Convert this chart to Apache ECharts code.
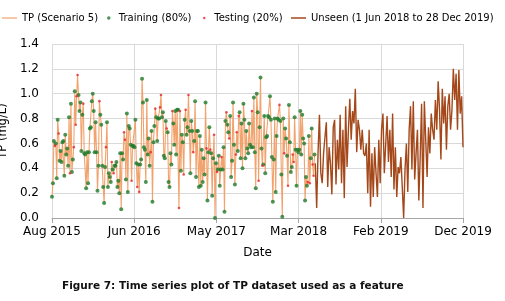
<!DOCTYPE html>
<html>
<head>
<meta charset="utf-8">
<script src="https://cdn.jsdelivr.net/npm/echarts@6/dist/echarts.min.js"></script>
<style>
html,body{margin:0;padding:0;background:#fff;}
#chart{width:505px;height:301px;}
</style>
</head>
<body>
<div id="chart"></div>
<script>
// ---- Data ----
const monthNames = ['Jan','Feb','Mar','Apr','May','Jun','Jul','Aug','Sep','Oct','Nov','Dec'];
const axisStartDate = '2015-08-11';      // first tick "Aug 2015"
const axisEndDate = '2019-12-28';        // last tick "Dec 2019"
const xTickStepDays = 320;
const yTicks = [0.0, 0.2, 0.4, 0.6, 0.8, 1.0, 1.2, 1.4];

const trainPeriod = ['2015-08-11', '2018-05-29'];
const unseenPeriod = ['2018-06-01', '2019-12-28'];

// TP values in the training/testing period (chronological)
const tpValues = [
0.17,0.28,0.62,0.58,0.60,0.32,0.79,0.68,0.46,0.54,
0.45,0.61,0.62,0.34,0.67,0.51,0.56,0.42,0.81,0.36,
0.92,0.37,0.47,0.57,1.02,0.75,0.98,1.15,0.99,0.86,
0.93,0.54,0.83,0.92,0.52,0.51,0.24,0.53,0.28,0.53,
0.72,0.73,0.94,1.00,0.86,0.53,0.77,0.53,0.22,0.42,
0.94,0.83,0.75,0.42,0.25,0.12,0.41,0.57,0.77,0.25,
0.36,0.33,0.29,0.45,0.39,0.36,0.42,0.42,0.45,0.25,
0.30,0.20,0.52,0.07,0.52,0.47,0.69,0.63,0.31,0.84,
0.21,0.74,0.72,0.59,0.30,0.58,0.58,0.57,0.79,0.44,
0.25,0.43,0.21,0.43,0.47,1.12,0.93,0.57,0.55,0.29,
0.95,0.51,0.64,0.42,0.53,0.70,0.13,0.61,0.74,0.88,
0.81,0.62,0.80,0.80,0.89,0.99,0.81,0.85,0.50,0.48,
0.78,0.72,0.69,0.29,0.25,0.52,0.43,0.86,0.76,0.59,
0.86,0.51,0.87,0.87,0.08,0.86,0.38,0.67,0.61,0.35,
0.79,0.87,0.67,0.73,0.99,0.70,0.36,0.78,0.70,0.53,
0.62,0.94,0.33,0.70,0.70,0.25,0.66,0.26,0.55,0.29,
0.48,0.35,0.93,0.56,0.14,0.53,0.73,0.55,0.52,0.18,
0.48,0.67,0.00,0.44,0.37,0.39,0.50,0.26,0.39,0.49,
0.39,0.57,0.05,0.78,0.85,0.75,0.69,0.64,0.82,0.33,
0.46,0.93,0.59,0.27,0.51,0.69,0.54,0.82,0.85,0.48,
0.76,0.40,0.92,0.79,0.48,0.70,0.56,0.52,0.76,0.59,
0.57,0.86,0.57,0.97,0.53,0.24,1.00,0.85,0.30,0.73,
1.13,0.56,0.42,0.43,0.82,0.36,0.65,0.66,0.82,0.81,
0.98,0.79,0.49,0.13,0.47,0.80,0.21,0.66,0.80,0.79,
0.91,0.78,0.35,0.01,0.80,0.52,0.72,0.64,0.50,0.26,
0.91,0.61,0.37,0.41,0.51,0.45,0.81,0.55,0.26,0.55,
0.53,0.55,0.86,0.51,0.83,0.64,0.60,0.14,0.33,0.26,
0.29,0.66,0.28,0.48,0.72,0.43,0.34,0.51
];
// T = training (80%), E = testing (20%), one letter per tpValues entry
const splitFlags =
"TTTETTTETT" + "TTTTTTTTTE" + "TTTETEEETT" + "TTTETTTTTT" + "TTTTTTTTTT" +
"ETTTTTTETT" + "TTTETETTTT" + "TTTTTTEETT" + "TTTTETTTTT" + "ETETTTTTTT" +
"TTTTETTTTE" + "TTTTEETTTT" + "TETTTTTETT" + "TTTTEETTTE" + "TETTETTTTE" +
"TTTTTTTTTT" + "TTTETTTETT" + "TETTETTTTE" + "TTTTETTETT" + "TTTTEETETT" +
"TTTTTTTTTT" + "TETTTTTTET" + "TTETTTTTTT" + "TTTTTTTTTT" + "ETTTTETTTE" +
"TTTTEETTTT" + "TTTTTTTTTT" + "ETETTEET";

// Unseen period values (1 Jun 2018 to 28 Dec 2019)
const unseenValues = [
0.44,0.08,0.53,0.83,0.36,0.28,0.52,0.65,0.77,0.25,
0.57,0.44,0.19,0.73,0.79,0.27,0.63,0.39,0.83,0.28,
0.71,0.16,0.90,0.41,0.71,0.96,0.63,0.86,0.76,1.04,
0.53,0.79,0.71,0.55,0.71,0.52,0.50,0.60,0.20,0.71,
0.09,0.52,0.17,0.57,0.36,0.17,0.63,0.28,0.71,0.84,
0.36,0.59,0.82,0.45,0.71,0.33,0.84,0.23,0.57,0.17,
0.41,0.36,0.49,0.25,0.00,0.39,0.60,0.21,0.71,0.90,
0.39,0.94,0.31,0.52,0.71,0.14,0.49,0.92,0.08,0.94,
0.63,0.33,0.73,0.52,0.84,0.71,0.63,0.95,0.71,1.10,
0.87,0.47,1.04,0.76,0.98,0.55,0.90,1.00,0.71,0.87,
1.20,0.95,1.16,0.71,1.19,0.84,0.98,0.57
];

// ---- Build series data ----
const DAY = 86400000;
function utc(iso){ const p = iso.split('-').map(Number); return Date.UTC(p[0], p[1]-1, p[2]); }
const axisStart = utc(axisStartDate);
function dayOffset(iso){ return (utc(iso) - axisStart) / DAY; }
function spread(values, period){
  const a = dayOffset(period[0]), b = dayOffset(period[1]);
  const n = values.length;
  return values.map((v, i) => [a + i * (b - a) / (n - 1), v]);
}
const tpData = spread(tpValues, trainPeriod);
const trainingData = tpData.filter((d, i) => splitFlags[i] === 'T');
const testingData = tpData.filter((d, i) => splitFlags[i] === 'E');
const unseenData = spread(unseenValues, unseenPeriod);
const xMax = dayOffset(axisEndDate);

const FONT = 'DejaVu Sans';
const legendText = {fontFamily: FONT, fontSize: 10, color: '#000'};
const ORANGE = '#f2a26c';
const BROWN = '#a4481a';

const chart = echarts.init(document.getElementById('chart'), null, {renderer: 'canvas'});
chart.setOption({
  animation: false,
  backgroundColor: '#fff',
  title: {
    text: 'Figure 7: Time series plot of TP dataset used as a feature',
    left: 62, top: 281, padding: 0,
    textStyle: {fontFamily: FONT, fontSize: 10.5, fontWeight: 'bold', color: '#111'}
  },
  legend: [
    {data: [{name: 'TP (Scenario 5)', icon: 'rect', itemStyle: {color: ORANGE}}], left: 2, top: 13, padding: 0, itemWidth: 15, itemHeight: 1.2, textStyle: legendText},
    {data: [{name: 'Training (80%)', icon: 'circle'}], left: 107, top: 13, padding: 0, itemWidth: 10, itemHeight: 3.5, textStyle: legendText},
    {data: [{name: 'Testing (20%)', icon: 'circle'}], left: 203, top: 13, padding: 0, itemWidth: 10, itemHeight: 2.5, textStyle: legendText},
    {data: [{name: 'Unseen (1 Jun 2018 to 28 Dec 2019)', icon: 'rect', itemStyle: {color: BROWN}}], left: 291, top: 13, padding: 0, itemWidth: 15, itemHeight: 1.5, textStyle: legendText}
  ],
  grid: {left: 52, right: 42, top: 44, bottom: 83, outerBoundsMode: 'none', containLabel: false},
  xAxis: {
    type: 'value',
    min: 0, max: xMax, interval: xTickStepDays,
    name: 'Date', nameLocation: 'middle', nameGap: 29,
    nameTextStyle: {fontFamily: FONT, fontSize: 12, color: '#000'},
    axisLine: {show: true, lineStyle: {color: '#a6a6a6', width: 1}},
    axisTick: {show: true, length: 5, lineStyle: {color: '#a6a6a6'}},
    axisLabel: {
      fontFamily: FONT, fontSize: 12, color: '#000', margin: 8,
      formatter: function(v){
        const d = new Date(axisStart + v * DAY);
        return monthNames[d.getUTCMonth()] + ' ' + d.getUTCFullYear();
      }
    },
    splitLine: {show: true, lineStyle: {color: '#d9d9d9', width: 1}}
  },
  yAxis: {
    type: 'value',
    min: yTicks[0], max: yTicks[yTicks.length - 1], interval: yTicks[1] - yTicks[0],
    name: 'TP (mg/L)', nameLocation: 'middle', nameGap: 34,
    nameTextStyle: {fontFamily: FONT, fontSize: 11.5, color: '#000'},
    axisLine: {show: false},
    axisTick: {show: false},
    axisLabel: {fontFamily: FONT, fontSize: 12, color: '#000', margin: 13,
      formatter: v => v.toFixed(1)},
    splitLine: {show: true, lineStyle: {color: '#d9d9d9', width: 1}}
  },
  series: [
    {
      name: 'TP (Scenario 5)', type: 'line', data: tpData,
      symbol: 'none', lineStyle: {color: ORANGE, width: 1.1}, itemStyle: {color: ORANGE},
      z: 1
    },
    {
      name: 'Training (80%)', type: 'scatter', data: trainingData,
      symbol: 'circle', symbolSize: 4, itemStyle: {color: '#1f7a2a'}, z: 3
    },
    {
      name: 'Testing (20%)', type: 'scatter', data: testingData,
      symbol: 'circle', symbolSize: 2.6, itemStyle: {color: '#e3262a'}, z: 3
    },
    {
      name: 'Unseen (1 Jun 2018 to 28 Dec 2019)', type: 'line', data: unseenData,
      symbol: 'none', lineStyle: {color: BROWN, width: 1.4}, itemStyle: {color: BROWN},
      z: 2
    }
  ]
});
</script>
</body>
</html>
